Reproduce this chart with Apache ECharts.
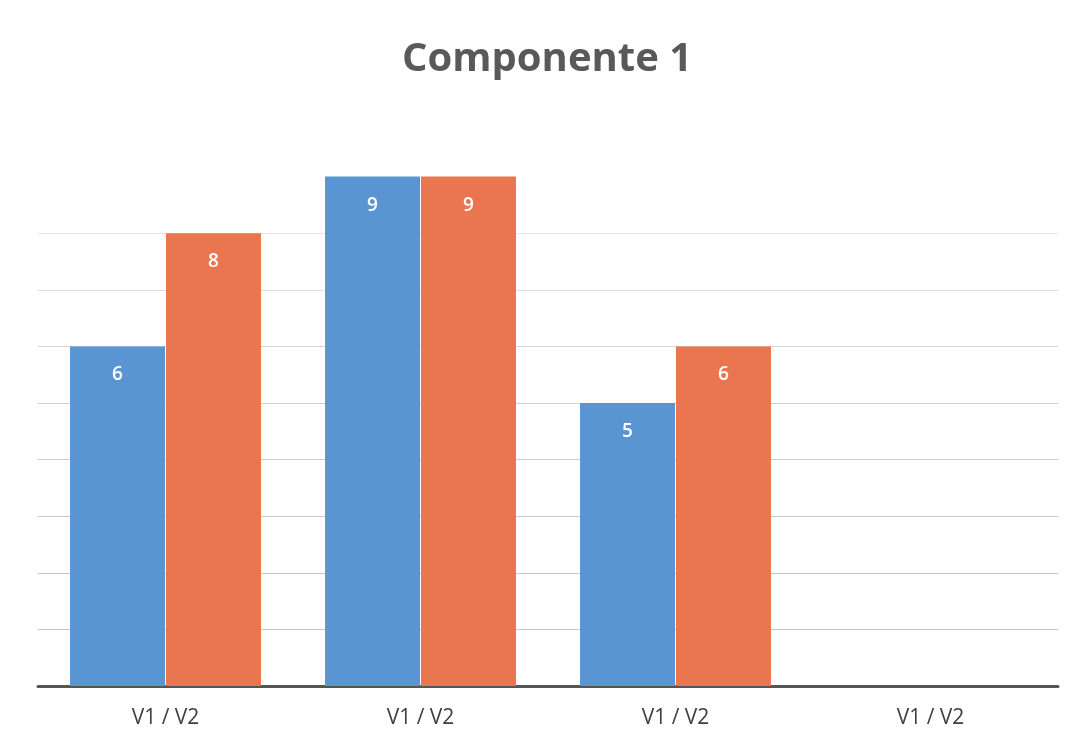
<!DOCTYPE html>
<html>
<head>
<meta charset="utf-8">
<script src="https://cdn.jsdelivr.net/npm/echarts@6/dist/echarts.min.js"></script>
<style>
  html, body { margin: 0; padding: 0; background: #fff; }
  #chart { width: 1073px; height: 740px; }
</style>
</head>
<body>
<div id="chart"></div>
<script>
// datos
var categorias = ["V1 / V2", "V1 / V2", "V1 / V2", "V1 / V2"];
var serieAzul = [6, 9, 5, null];
var serieNaranja = [8, 9, 6, null];
var titulo = "Componente 1";

var myChart = echarts.init(document.getElementById("chart"));

var etiqueta = {
  show: true,
  position: "insideTop",
  distance: 19,
  color: "#fff",
  fontSize: 19,
  fontWeight: 600,
  fontFamily: "Open Sans"
};

// lineas de division: las de arriba casi no se ven en el original
var coloresLinea = ["#bdbdbd", "#c4c4c4", "#c4c4c4", "#c8c8c8", "#cccccc",
  "#d0d0d0", "#d4d4d4", "#dedede", "#e4e4e4", "#ffffff", "#ffffff"];

myChart.setOption({
  animation: false,
  title: {
    text: titulo,
    left: 397,
    top: 35,
    textStyle: {
      fontFamily: "Open Sans",
      fontSize: 40,
      fontWeight: "bold",
      color: "#595959"
    }
  },
  grid: {
    left: 38,
    right: 15,
    top: 120,
    bottom: 54
  },
  xAxis: {
    type: "category",
    data: categorias,
    axisTick: { show: false },
    axisLine: { lineStyle: { color: "#555", width: 3 } },
    axisLabel: {
      color: "#404040",
      fontSize: 21,
      fontFamily: "Open Sans",
      margin: 22
    }
  },
  yAxis: {
    type: "value",
    min: 0,
    max: 10,
    interval: 1,
    axisLabel: { show: false },
    axisLine: { show: false },
    axisTick: { show: false },
    splitLine: { lineStyle: { color: coloresLinea, width: 1 } }
  },
  series: [
    {
      name: "V1",
      type: "bar",
      data: serieAzul,
      barWidth: 95,
      barGap: "1%",
      itemStyle: { color: "#5A95D3" },
      label: etiqueta
    },
    {
      name: "V2",
      type: "bar",
      data: serieNaranja,
      barWidth: 95,
      itemStyle: { color: "#EA7650" },
      label: etiqueta
    }
  ]
});
</script>
</body>
</html>
